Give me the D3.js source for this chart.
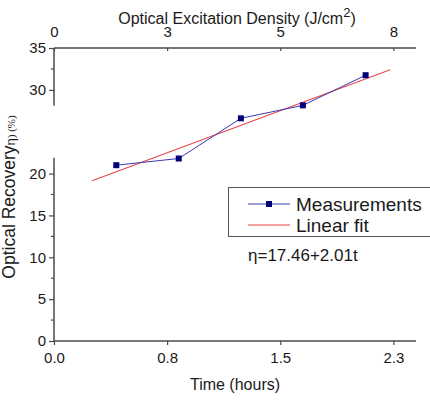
<!DOCTYPE html>
<html>
<head>
<meta charset="utf-8">
<script src="https://cdn.jsdelivr.net/npm/d3@7"></script>
<style>
  html, body { margin: 0; background: #fff; overflow: hidden; }
  svg { display: block; }
  text { font-family: Arial, "Liberation Sans", sans-serif; fill: #1a1a1a; }
</style>
</head>
<body>
<div id="chart"></div>
<script>
// measured recovery vs. time
var timeHours = [0.413, 0.827, 1.239, 1.650, 2.066];
var recovery = [21.0, 21.8, 26.6, 28.15, 31.75];

// linear fit eta = a + b * density, drawn between these densities
var fitCoef = [17.46, 2.01];
var fitRange = [0.84, 7.43];

// axes
var timeTicks = [0, 0.75, 1.5, 2.25];
var timeLabels = ['0.0', '0.8', '1.5', '2.3'];
var densityTicks = [0, 2.5, 5, 7.5];
var densityLabels = ['0', '3', '5', '8'];
var yMajor = [0, 5, 10, 15, 20, 30, 35];
var yMinor = [2.5, 7.5, 12.5, 17.5, 32.5];
var yBreak = [21.9, 28.1];

var width = 430, height = 404;
var plotLeft = 54, plotRight = 416, plotTop = 48, plotBottom = 341;

var svg = d3.select('#chart').append('svg')
    .attr('width', width)
    .attr('height', height);

var x = d3.scaleLinear().domain([0, 2.4]).range([plotLeft, plotRight]);
var xTop = d3.scaleLinear().domain([0, 8]).range([plotLeft, plotRight]);
var y = d3.scaleLinear().domain([0, 35]).range([plotBottom, plotTop]);

var axisColor = '#4a4a4a';

function styleAxis(g) {
    g.selectAll('path.domain').remove();
    g.selectAll('line').attr('stroke', axisColor).attr('stroke-width', 1.2);
    g.selectAll('text').attr('fill', '#1a1a1a');
}

// bottom axis
var gx = svg.append('g')
    .attr('transform', 'translate(0,' + plotBottom + ')')
    .call(d3.axisBottom(x).tickValues(timeTicks)
        .tickFormat(function (d, i) { return timeLabels[i]; })
        .tickSize(4).tickPadding(7))
    .attr('font-size', 15)
    .attr('font-family', 'Arial, "Liberation Sans", sans-serif');
styleAxis(gx);
svg.append('line')
    .attr('x1', plotLeft).attr('x2', plotRight)
    .attr('y1', plotBottom).attr('y2', plotBottom)
    .attr('stroke', axisColor).attr('stroke-width', 1.5);

// top axis
var gt = svg.append('g')
    .attr('transform', 'translate(0,' + plotTop + ')')
    .call(d3.axisTop(xTop).tickValues(densityTicks)
        .tickFormat(function (d, i) { return densityLabels[i]; })
        .tickSize(-3).tickPadding(11))
    .attr('font-size', 15)
    .attr('font-family', 'Arial, "Liberation Sans", sans-serif');
styleAxis(gt);
svg.append('line')
    .attr('x1', plotLeft).attr('x2', plotRight)
    .attr('y1', plotTop).attr('y2', plotTop)
    .attr('stroke', axisColor).attr('stroke-width', 1.5);

// left axis, broken between 22 and 28
var gy = svg.append('g')
    .attr('transform', 'translate(' + plotLeft + ',0)')
    .call(d3.axisLeft(y).tickValues(yMajor).tickSize(5).tickPadding(3))
    .attr('font-size', 15)
    .attr('font-family', 'Arial, "Liberation Sans", sans-serif');
styleAxis(gy);
svg.append('g').selectAll('line')
    .data(yMinor)
    .enter()
    .append('line')
    .attr('x1', plotLeft - 3).attr('x2', plotLeft)
    .attr('y1', function (d) { return y(d); })
    .attr('y2', function (d) { return y(d); })
    .attr('stroke', axisColor).attr('stroke-width', 1.2);
svg.append('line')
    .attr('x1', plotLeft).attr('x2', plotLeft)
    .attr('y1', y(0)).attr('y2', y(yBreak[0]))
    .attr('stroke', axisColor).attr('stroke-width', 1.5);
svg.append('line')
    .attr('x1', plotLeft).attr('x2', plotLeft)
    .attr('y1', y(yBreak[1])).attr('y2', y(35))
    .attr('stroke', axisColor).attr('stroke-width', 1.5);

// fit line
svg.append('path')
    .attr('fill', 'none')
    .attr('stroke', '#e8474a')
    .attr('stroke-width', 1.1)
    .attr('d', d3.line()
        .x(function (d) { return xTop(d); })
        .y(function (d) { return y(fitCoef[0] + fitCoef[1] * d); })(fitRange));

// measurements
var points = timeHours.map(function (t, i) { return {t: t, v: recovery[i]}; });
svg.append('path')
    .attr('fill', 'none')
    .attr('stroke', '#3b3bb0')
    .attr('stroke-width', 1)
    .attr('d', d3.line()
        .x(function (d) { return x(d.t); })
        .y(function (d) { return y(d.v); })(points));
svg.selectAll('rect.pt')
    .data(points)
    .enter()
    .append('rect')
    .attr('class', 'pt')
    .attr('x', function (d) { return x(d.t) - 3; })
    .attr('y', function (d) { return y(d.v) - 3; })
    .attr('width', 6).attr('height', 6)
    .attr('fill', '#00007a');

// legend, runs off the right edge like the original
var legend = svg.append('g');
legend.append('rect')
    .attr('x', 228.5).attr('y', 187.5)
    .attr('width', 240).attr('height', 49)
    .attr('fill', '#fff')
    .attr('stroke', '#555').attr('stroke-width', 1);
legend.append('line')
    .attr('x1', 248).attr('x2', 290).attr('y1', 204).attr('y2', 204)
    .attr('stroke', '#3b3bb0').attr('stroke-width', 1);
legend.append('rect')
    .attr('x', 266).attr('y', 201).attr('width', 6).attr('height', 6)
    .attr('fill', '#00007a');
legend.append('line')
    .attr('x1', 248).attr('x2', 290).attr('y1', 225).attr('y2', 225)
    .attr('stroke', '#e8474a').attr('stroke-width', 1.1);
legend.append('text')
    .attr('x', 296).attr('y', 210.5)
    .attr('font-size', 19)
    .text('Measurements');
legend.append('text')
    .attr('x', 296).attr('y', 232)
    .attr('font-size', 19)
    .text('Linear fit');

// fit equation
svg.append('text')
    .attr('x', 248).attr('y', 261)
    .attr('font-size', 17)
    .text('\u03b7=17.46+2.01t');

// axis titles
svg.append('text')
    .attr('x', 235).attr('y', 390)
    .attr('text-anchor', 'middle')
    .attr('font-size', 16)
    .text('Time (hours)');

var topTitle = svg.append('text')
    .attr('x', 237).attr('y', 24)
    .attr('text-anchor', 'middle')
    .attr('font-size', 16);
topTitle.append('tspan').text('Optical Excitation Density (J/cm');
topTitle.append('tspan').attr('dy', -7).attr('font-size', 13).text('2');
topTitle.append('tspan').attr('dy', 7).text(')');

var yTitle = svg.append('text')
    .attr('transform', 'translate(15,197) rotate(-90)')
    .attr('text-anchor', 'middle')
    .attr('font-size', 17.5);
yTitle.append('tspan').text('Optical Recovery');
yTitle.append('tspan').attr('font-size', 13).text('\u03b7');
yTitle.append('tspan').attr('font-size', 11).attr('font-family', 'Times New Roman, "Liberation Serif", serif').text(') (%)');
</script>
</body>
</html>
